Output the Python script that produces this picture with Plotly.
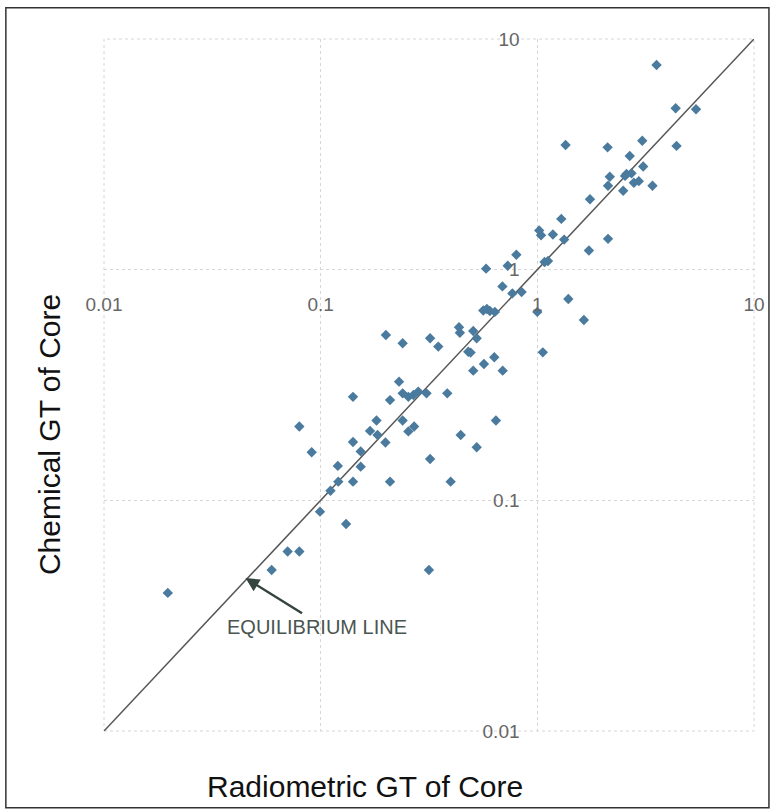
import math
import plotly.graph_objects as go

# Radiometric GT (x) vs Chemical GT (y)
radiometric_gt = [
    3.55, 4.35, 5.40, 4.39, 3.05, 2.11, 1.35, 2.67, 3.08, 2.58, 2.72, 2.54, 2.16, 2.12,
    2.49, 2.79, 2.94, 3.40, 1.75, 1.29, 1.02, 1.04, 1.18, 1.33, 2.12, 1.73, 1.12, 1.08,
    0.80, 0.73, 0.58, 0.69, 0.767, 0.846, 1.39, 0.563, 0.604, 0.637, 0.585, 1.00, 1.64, 1.06,
    0.200, 0.239, 0.320, 0.349, 0.435, 0.439, 0.506, 0.525, 0.480, 0.492, 0.633, 0.567,
    0.506, 0.692, 0.230, 0.209, 0.239, 0.254, 0.268, 0.282, 0.308, 0.384, 0.239, 0.254,
    0.270, 0.199, 0.644, 0.443, 0.525, 0.320, 0.209, 0.398, 0.316,
    0.141, 0.181, 0.169, 0.183, 0.141, 0.0797, 0.0909, 0.153, 0.120, 0.153, 0.1206, 0.141,
    0.111, 0.0993, 0.131, 0.0704, 0.0797, 0.0594, 0.0197,
]
chemical_gt = [
    7.71, 5.01, 4.96, 3.44, 3.62, 3.39, 3.47, 3.11, 2.80, 2.60, 2.62, 2.55, 2.53, 2.31,
    2.20, 2.38, 2.42, 2.31, 2.02, 1.66, 1.48, 1.41, 1.42, 1.35, 1.36, 1.21, 1.09, 1.08,
    1.16, 1.04, 1.01, 0.846, 0.789, 0.80, 0.746, 0.665, 0.662, 0.656, 0.675, 0.656, 0.605, 0.438,
    0.521, 0.480, 0.504, 0.464, 0.563, 0.533, 0.542, 0.504, 0.441, 0.437, 0.417, 0.390,
    0.365, 0.365, 0.327, 0.272, 0.291, 0.281, 0.286, 0.296, 0.291, 0.291, 0.222, 0.199,
    0.209, 0.178, 0.222, 0.192, 0.170, 0.151, 0.1205, 0.1205, 0.0499,
    0.281, 0.222, 0.200, 0.192, 0.179, 0.209, 0.1616, 0.163, 0.141, 0.140, 0.1205, 0.1205,
    0.110, 0.0893, 0.079, 0.060, 0.060, 0.0499, 0.0397,
]

equilibrium_x = [0.01, 10]
equilibrium_y = [0.01, 10]
tick_vals = [0.01, 0.1, 1, 10]
tick_text = ["0.01", "0.1", "1", "10"]
arrow_target = (0.045, 0.046)

fig = go.Figure()
fig.add_trace(go.Scatter(
    x=equilibrium_x, y=equilibrium_y, mode="lines",
    line=dict(color="#555555", width=1.5), hoverinfo="skip", showlegend=False,
))
fig.add_trace(go.Scatter(
    x=radiometric_gt, y=chemical_gt, mode="markers",
    marker=dict(symbol="diamond", size=8, color="#4a7b9e"),
    showlegend=False,
))

axis_common = dict(
    type="log", range=[-2, 1], tickmode="array", tickvals=tick_vals, ticktext=tick_text,
    showgrid=True, gridcolor="#d6d6d6", griddash="dot", gridwidth=1,
    showline=False, zeroline=False, ticks="outside", tickcolor="rgba(0,0,0,0)",
    tickfont=dict(family="Liberation Sans, Arial", size=19, color="#666666"),
    anchor="free", position=2 / 3, automargin=False,
)
fig.update_xaxes(**axis_common, ticklen=18)
fig.update_yaxes(**axis_common, ticklen=14)

fig.add_shape(type="rect", xref="paper", yref="paper", x0=0, y0=0, x1=1, y1=1,
              line=dict(color="#d6d6d6", width=1, dash="dot"), layer="below")
fig.add_shape(type="rect", xref="paper", yref="paper", x0=-0.151, y0=-0.111, x1=1.023, y1=1.045,
              line=dict(color="#333333", width=1.5))

fig.add_annotation(
    x=math.log10(arrow_target[0]), y=math.log10(arrow_target[1]), xref="x", yref="y",
    text="", showarrow=True, ax=58, ay=36, axref="pixel", ayref="pixel",
    arrowhead=2, arrowsize=1.1, arrowwidth=2.5, arrowcolor="#34443f",
)
fig.add_annotation(
    x=math.log10(arrow_target[0]), y=math.log10(arrow_target[1]), xref="x", yref="y",
    text="EQUILIBRIUM LINE", showarrow=False, xshift=71, yshift=-49,
    xanchor="center", yanchor="middle",
    font=dict(family="Liberation Sans, Arial", size=20, color="#4a5550"),
)
fig.add_annotation(
    text="Chemical GT of Core", xref="paper", yref="paper", x=-0.0846, y=0.4277,
    xanchor="center", yanchor="middle", showarrow=False, textangle=-90,
    font=dict(family="Liberation Sans, Arial", size=30, color="#111111"),
)
fig.add_annotation(
    text="Radiometric GT of Core", xref="paper", yref="paper", x=0.4015, y=-0.08,
    xanchor="center", yanchor="middle", showarrow=False,
    font=dict(family="Liberation Sans, Arial", size=30, color="#111111"),
)

fig.update_layout(
    template="none",
    width=774, height=811, margin=dict(l=104, r=20, t=39, b=80),
    paper_bgcolor="white", plot_bgcolor="white",
)
fig.write_html("out.html", config={"displayModeBar": False},
               post_script="document.body.style.margin='0px';")
